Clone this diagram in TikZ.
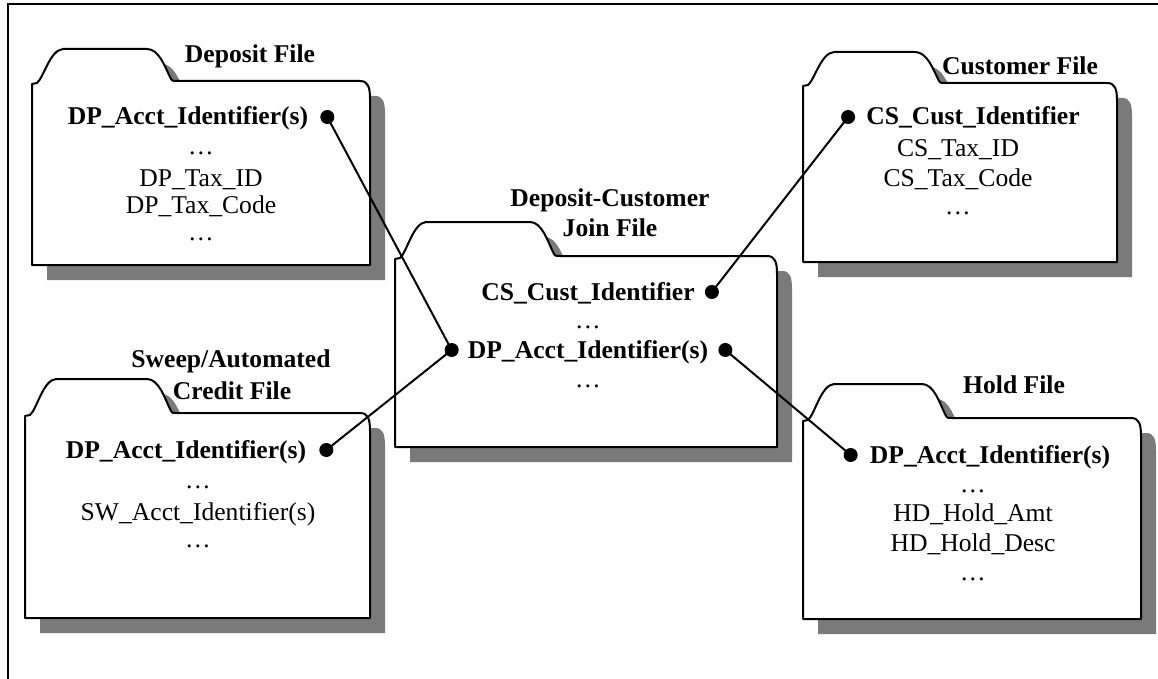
\documentclass[tikz,border=0pt]{standalone}
\usepackage{fontspec}
\setmainfont{Liberation Serif}
\usetikzlibrary{calc}
% folder outline: L R tabtop bodytop bottom tabflatend
\newcommand\folderpath[6]{(#1,#5) -- (#1,#4+3) -- (#1+5,#4+2) .. controls (#1+12,#4-4) and (#1+18,#3+1) .. (#1+31,#3) -- (#6,#3) .. controls (#6+12,#3) and (#6+18,#4-14) .. (#6+23,#4-4) .. controls (#6+25,#4) .. (#6+30,#4) -- (#2-10,#4) .. controls (#2-2,#4) and (#2,#4+6) .. (#2,#4+18) -- (#2,#5) -- cycle}
\tikzset{
  folderbox/.style={draw=black, fill=white, line width=2pt, line join=round},
  shadowbox/.style={fill=black!52},
  keytext/.style={font=\fontsize{25.6}{29}\selectfont\bfseries, inner sep=0pt, anchor=base},
  titletext/.style={font=\fontsize{25.6}{29}\selectfont\bfseries, inner sep=0pt, anchor=base},
  plaintext/.style={font=\fontsize{25.6}{29}\selectfont, inner sep=0pt, anchor=base},
  dotc/.style={circle, fill=black, inner sep=0pt, minimum size=14pt},
  conn/.style={line width=2pt}
}
\begin{document}
\begin{tikzpicture}[x=1pt,y=-1pt]
\useasboundingbox (0,0) rectangle (1158,679);
\fill[white] (0,0) rectangle (1158,679);
\draw[line width=1.5pt] (8,679) -- (8,4) -- (1158,4);

% shadows
\fill[shadowbox, shift={(15,15)}] \folderpath{32}{370}{49}{81}{265}{147};
\fill[shadowbox, shift={(15,15)}] \folderpath{803}{1117}{52}{83}{262}{915};
\fill[shadowbox, shift={(15,15)}] \folderpath{395}{777}{222}{256}{447}{530};
\fill[shadowbox, shift={(15,15)}] \folderpath{25}{370}{379}{413}{618}{147};
\fill[shadowbox, shift={(15,15)}] \folderpath{803}{1141}{384}{418}{619}{922};

% folders
\draw[folderbox] \folderpath{32}{370}{49}{81}{265}{147};
\draw[folderbox] \folderpath{803}{1117}{52}{83}{262}{915};
\draw[folderbox] \folderpath{395}{777}{222}{256}{447}{530};
\draw[folderbox] \folderpath{25}{370}{379}{413}{618}{147};
\draw[folderbox] \folderpath{803}{1141}{384}{418}{619}{922};

% titles
\node[titletext] (deptitle) at (250,63) {Deposit File};
\node[titletext] (custtitle) at (1020,75) {Customer File};
\node[titletext] (jointitlea) at (610,206) {Deposit-Customer};
\node[titletext] (jointitleb) at (610,236) {Join File};
\node[titletext] (swtitlea) at (231,367) {Sweep/Automated};
\node[titletext] (swtitleb) at (232,399) {Credit File};
\node[titletext] (holdtitle) at (1014,393) {Hold File};

% Deposit File
\node[keytext] (depkey) at (188,125) {DP\_Acct\_Identifier(s)};
\node[plaintext] (depa) at (201,155) {…};
\node[plaintext] (depb) at (201,186) {DP\_Tax\_ID};
\node[plaintext] (depc) at (201,213) {DP\_Tax\_Code};
\node[plaintext] (depd) at (201,240) {…};
\node[dotc] (depdot) at ($(depkey.base east)+(19,-8)$) {};

% Customer File
\node[keytext] (custkey) at (973,125) {CS\_Cust\_Identifier};
\node[plaintext] (custa) at (958,157) {CS\_Tax\_ID};
\node[plaintext] (custb) at (958,186) {CS\_Tax\_Code};
\node[plaintext] (custc) at (958,214) {…};
\node[dotc] (custdot) at ($(custkey.base west)+(-18,-8)$) {};

% Join File
\node[keytext] (joinkeya) at (588,300) {CS\_Cust\_Identifier};
\node[plaintext] (joina) at (588,328) {…};
\node[keytext] (joinkeyb) at (588,358) {DP\_Acct\_Identifier(s)};
\node[plaintext] (joinb) at (588,387) {…};
\node[dotc] (joindotc) at ($(joinkeya.base east)+(17,-8)$) {};
\node[dotc] (joindotl) at ($(joinkeyb.base west)+(-16,-8)$) {};
\node[dotc] (joindotr) at ($(joinkeyb.base east)+(17,-8)$) {};

% Sweep File
\node[keytext] (swkey) at (186,458) {DP\_Acct\_Identifier(s)};
\node[plaintext] (swa) at (198,488) {…};
\node[plaintext] (swb) at (198,520) {SW\_Acct\_Identifier(s)};
\node[plaintext] (swc) at (198,547) {…};
\node[dotc] (swdot) at ($(swkey.base east)+(20,-8)$) {};

% Hold File
\node[keytext] (holdkey) at (990,463) {DP\_Acct\_Identifier(s)};
\node[plaintext] (holda) at (973,492) {…};
\node[plaintext] (holdb) at (973,521) {HD\_Hold\_Amt};
\node[plaintext] (holdc) at (973,551) {HD\_Hold\_Desc};
\node[plaintext] (holdd) at (973,580) {…};
\node[dotc] (holddot) at ($(holdkey.base west)+(-19,-8)$) {};

% connectors
\draw[conn] (depdot.center) -- (joindotl.center);
\draw[conn] (swdot.center) -- (joindotl.center);
\draw[conn] (custdot.center) -- (joindotc.center);
\draw[conn] (joindotr.center) -- (holddot.center);
\end{tikzpicture}
\end{document}
